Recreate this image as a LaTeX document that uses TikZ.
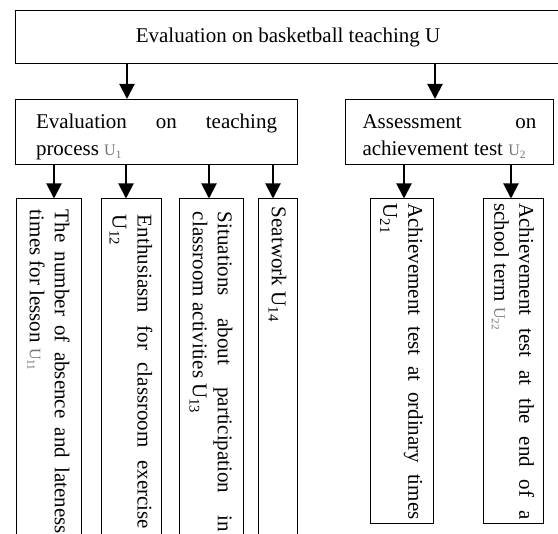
\documentclass[tikz,border=0pt]{standalone}
\usepackage{fontspec}
\setmainfont{Liberation Serif}
\usetikzlibrary{arrows.meta}
\newcommand\Ug[1]{{\color{black!55}\fontsize{16}{16}\selectfont U\textsubscript{#1}}}
\newcommand\Ub[1]{U\textsubscript{#1}}
\tikzset{
  box/.style={draw=black, line width=1pt, inner sep=0pt, anchor=north west,
    font=\fontsize{21}{27}\selectfont},
  mbox/.style={box, align=justify, text height=29pt, text depth=36pt, minimum height=65pt},
  cbox/.style={draw=black, line width=1pt, inner sep=0pt, rotate=-90, align=justify,
    font=\fontsize{21}{25}\selectfont},
  arr/.style={line width=2pt, -{Triangle[width=15pt,length=15pt]}}
}
\begin{document}
\begin{tikzpicture}[x=1pt,y=-1pt]
\useasboundingbox (0,0) rectangle (558,534);
\clip (0,0) rectangle (558,534);
% top
\node[box, minimum width=545pt, minimum height=53pt] (top) at (15,10)
  {Evaluation on basketball teaching U};
% middle
\node[mbox, minimum width=282pt, text width=241pt] (m1) at (15,99)
  {Evaluation on teaching\linebreak process \Ug{1}};
\node[mbox, minimum width=208pt, text width=174pt] (m2) at (345,99)
  {Assessment on\linebreak achievement test \Ug{2}};
% children
\node[cbox, minimum width=346pt, minimum height=65pt, text width=324pt] (c1) at (48.5,372)
  {The number of absence and lateness\linebreak times for lesson \Ug{11}};
\node[cbox, minimum width=346pt, minimum height=60pt, text width=314pt] (c2) at (131,372)
  {Enthusiasm for classroom exercise\linebreak \Ub{12}};
\node[cbox, minimum width=346pt, minimum height=64pt, text width=320pt] (c3) at (211,372)
  {Situations about participation in\linebreak classroom activities \Ub{13}};
\node[cbox, minimum width=346pt, minimum height=39pt, text width=330pt] (c4) at (277.5,372)
  {Seatwork \Ub{14}};
\node[cbox, minimum width=325pt, minimum height=63pt, text width=316pt] (c5) at (401.5,361.5)
  {Achievement test at ordinary times\linebreak \Ub{21}};
\node[cbox, minimum width=325pt, minimum height=60pt, text width=316pt] (c6) at (513,361.5)
  {Achievement test at the end of a\linebreak school term \Ug{22}};
% arrow positions
\coordinate (a1) at (127,0);
\coordinate (a2) at (435,0);
\coordinate (b1) at (54,0);
\coordinate (b2) at (126,0);
\coordinate (b3) at (209,0);
\coordinate (b4) at (273,0);
\coordinate (b5) at (404,0);
\coordinate (b6) at (511,0);
\draw[arr] (top.south -| a1) -- (m1.north -| a1);
\draw[arr] (top.south -| a2) -- (m2.north -| a2);
\draw[arr] (m1.south -| b1) -- (c1.west -| b1);
\draw[arr] (m1.south -| b2) -- (c2.west -| b2);
\draw[arr] (m1.south -| b3) -- (c3.west -| b3);
\draw[arr] (m1.south -| b4) -- (c4.west -| b4);
\draw[arr] (m2.south -| b5) -- (c5.west -| b5);
\draw[arr] (m2.south -| b6) -- (c6.west -| b6);
\end{tikzpicture}
\end{document}
